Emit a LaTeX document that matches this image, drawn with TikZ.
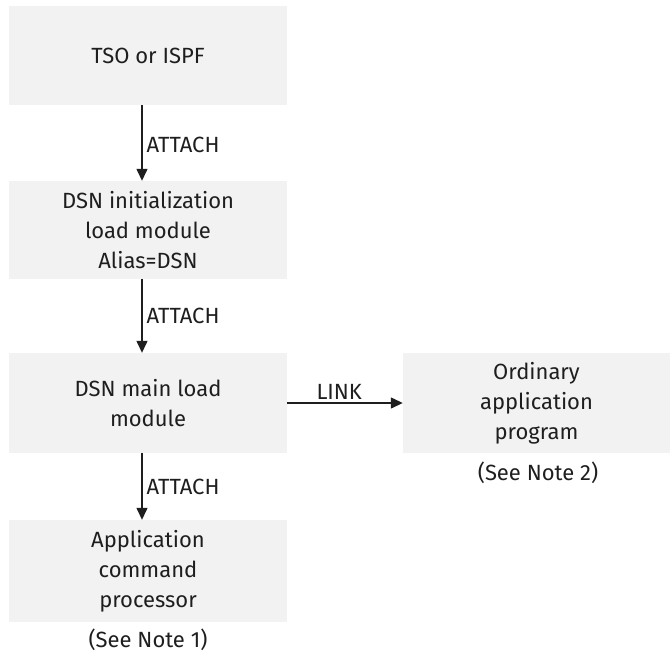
\documentclass[tikz,border=0pt]{standalone}
\usepackage{fontspec}
\setmainfont{Fira Sans}
\usepackage{xcolor}
\usepackage{tikz}
\usetikzlibrary{arrows.meta}
\definecolor{boxgray}{HTML}{F2F2F2}
\definecolor{inkgray}{HTML}{1E1E1E}

\begin{document}
\begin{tikzpicture}[x=1pt, y=-1pt,
    every node/.style={text=inkgray, font=\fontsize{22}{30}\selectfont},
    module/.style={fill=boxgray, align=center, minimum width=278pt, inner sep=0pt},
    call/.style={draw=inkgray, line width=1.3pt, -{Triangle[length=12pt, width=11pt]}},
    calllabel/.style={anchor=west, inner sep=2pt}]
\useasboundingbox (0,0) rectangle (670,654);
\node[module, minimum height=99pt] (tso) at (148,55.5) {TSO or ISPF};
\node[module, minimum height=98pt] (init) at (148,230) {DSN initialization\\load module\\Alias=DSN};
\node[module, minimum height=100pt] (main) at (148,403) {DSN main load\\module};
\node[module, minimum height=102pt] (cmdproc) at (148,571) {Application\\command\\processor};
\node[module, minimum height=100pt, minimum width=267pt] (ordinary) at (536.5,403) {Ordinary\\application\\program};
\node (note1) at (148,640) {(See Note 1)};
\node (note2) at (538,473) {(See Note 2)};
\draw[call] ([xshift=-6pt]tso.south) -- node[calllabel, pos=0.53, xshift=2pt] {ATTACH} ([xshift=-6pt]init.north);
\draw[call] ([xshift=-6pt]init.south) -- node[calllabel, pos=0.5, xshift=2pt] {ATTACH} ([xshift=-6pt]main.north);
\draw[call] ([xshift=-6pt]main.south) -- node[calllabel, pos=0.5, xshift=2pt] {ATTACH} ([xshift=-6pt]cmdproc.north);
\draw[call] (main.east) -- node[above, pos=0.45, inner sep=3pt] {LINK} (ordinary.west);
\end{tikzpicture}
\end{document}
